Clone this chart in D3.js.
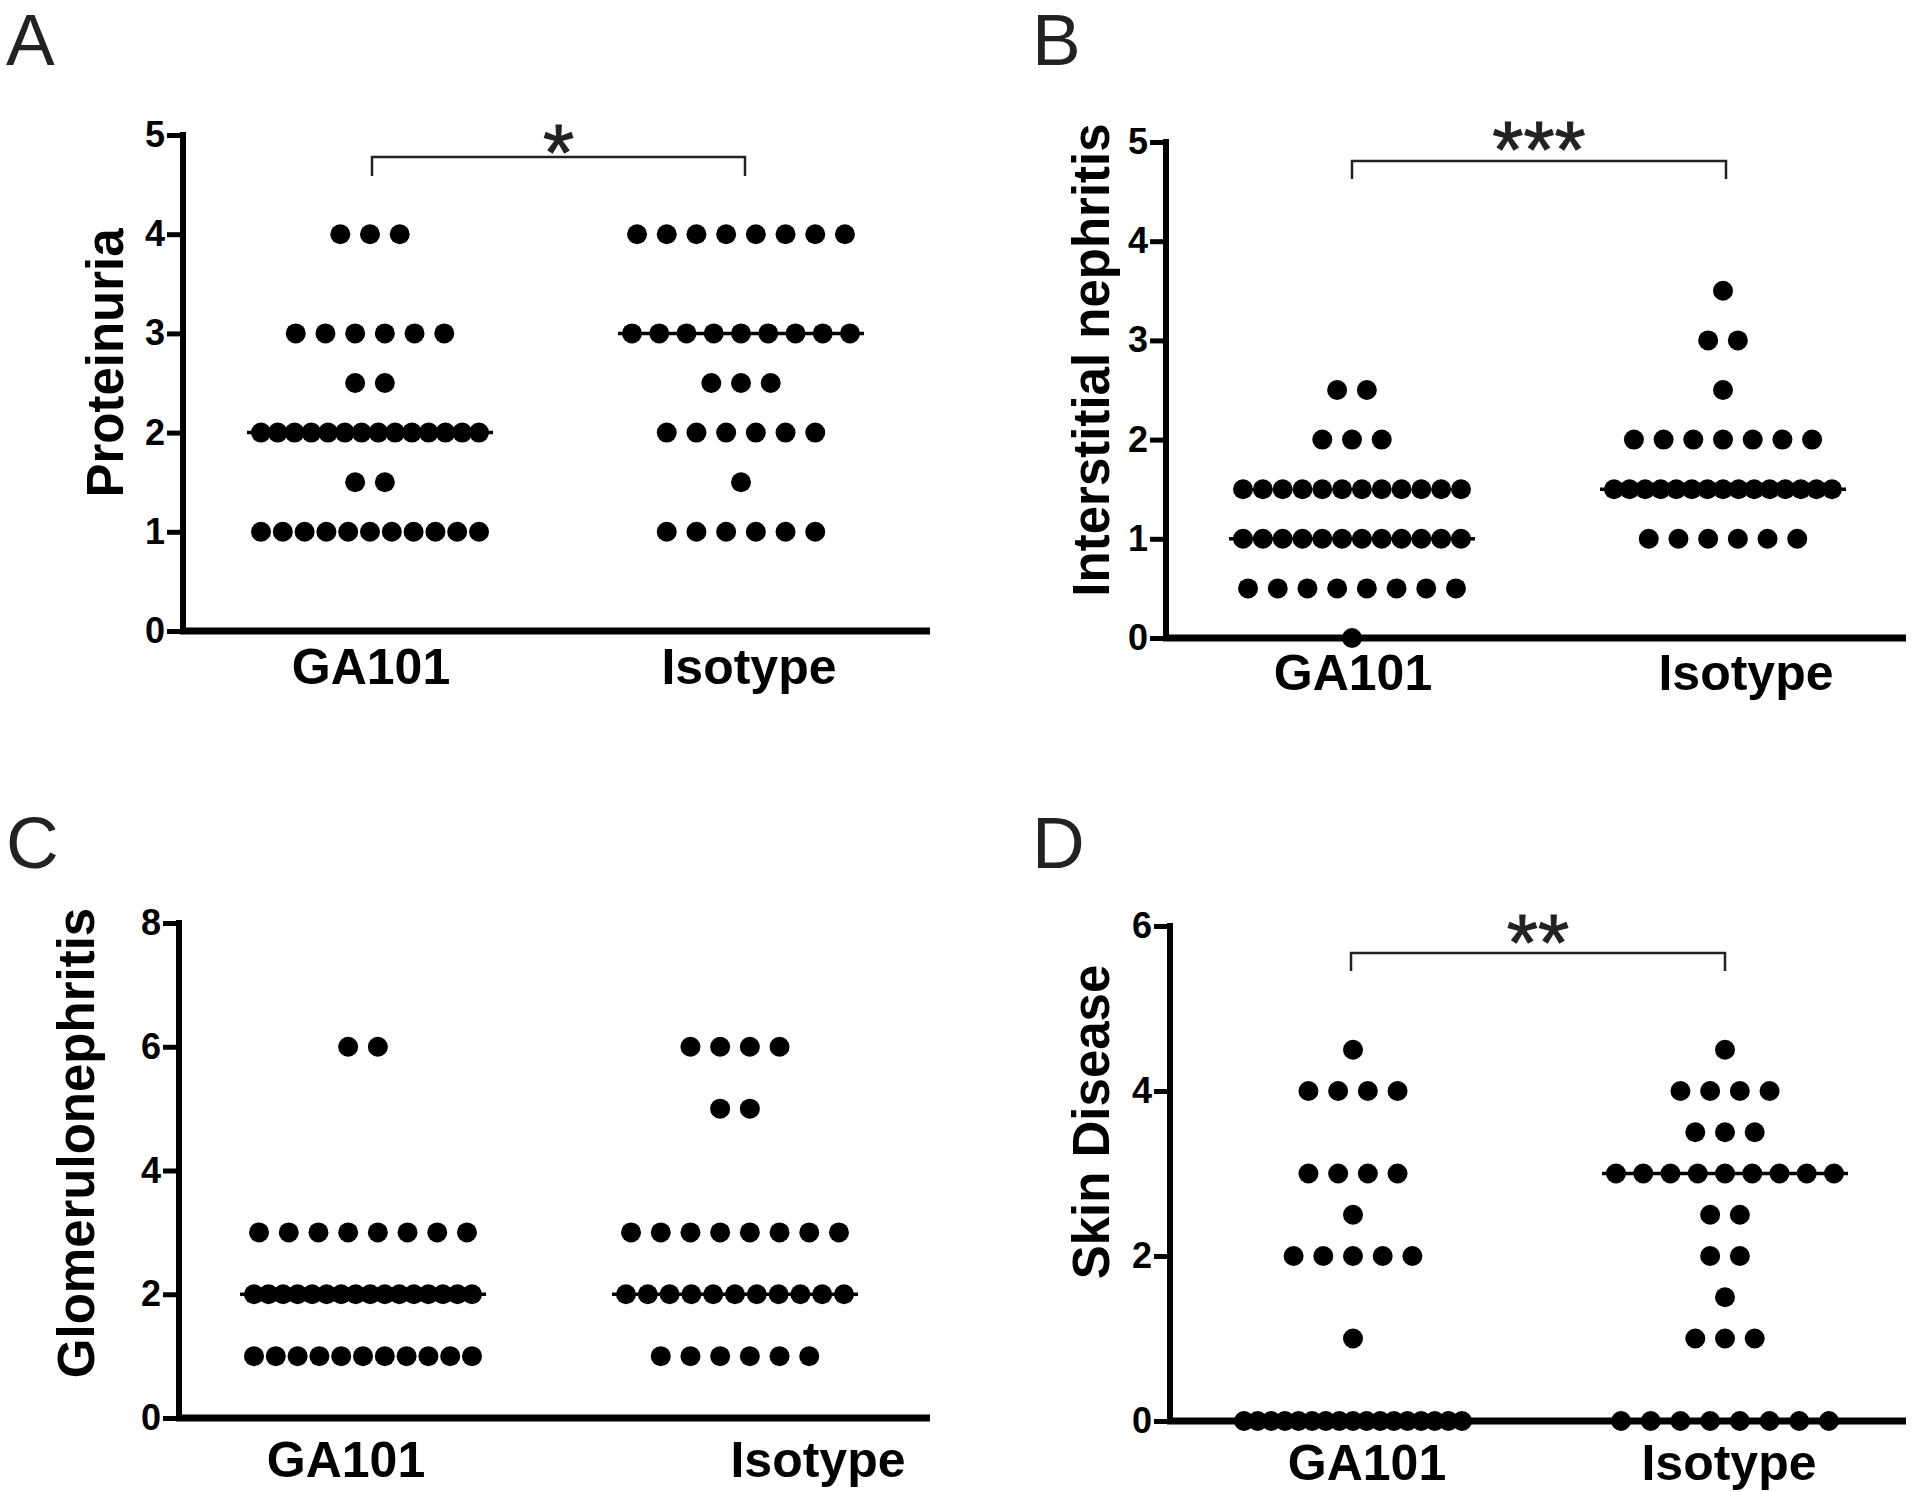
<!DOCTYPE html>
<html>
<head>
<meta charset="utf-8">
<script src="https://cdn.jsdelivr.net/npm/d3@7"></script>
<style>
  body { margin: 0; background: #fff; }
  svg text { font-family: "Liberation Sans", Arial, Helvetica, sans-serif; }
</style>
</head>
<body>
<div id="chart"></div>
<script>
// groups on the x axis
var groups = ["GA101", "Isotype"];

// A - proteinuria scores
var proteinuriaGA101 = [4, 4, 4, 3, 3, 3, 3, 3, 3, 2.5, 2.5,
  2, 2, 2, 2, 2, 2, 2, 2, 2, 2, 2, 2, 2, 2, 1.5, 1.5,
  1, 1, 1, 1, 1, 1, 1, 1, 1, 1, 1];
var proteinuriaIsotype = [4, 4, 4, 4, 4, 4, 4, 4, 3, 3, 3, 3, 3, 3, 3, 3, 3,
  2.5, 2.5, 2.5, 2, 2, 2, 2, 2, 2, 1.5, 1, 1, 1, 1, 1, 1];

// B - interstitial nephritis
var interstitialGA101 = [2.5, 2.5, 2, 2, 2,
  1.5, 1.5, 1.5, 1.5, 1.5, 1.5, 1.5, 1.5, 1.5, 1.5, 1.5, 1.5,
  1, 1, 1, 1, 1, 1, 1, 1, 1, 1, 1, 1,
  0.5, 0.5, 0.5, 0.5, 0.5, 0.5, 0.5, 0.5, 0];
var interstitialIsotype = [3.5, 3, 3, 2.5, 2, 2, 2, 2, 2, 2, 2,
  1.5, 1.5, 1.5, 1.5, 1.5, 1.5, 1.5, 1.5, 1.5, 1.5, 1.5, 1.5, 1.5, 1.5, 1.5,
  1, 1, 1, 1, 1, 1];

// C - glomerulonephritis
var glomeruloGA101 = [6, 6, 3, 3, 3, 3, 3, 3, 3, 3,
  2, 2, 2, 2, 2, 2, 2, 2, 2, 2, 2, 2, 2, 2, 2, 2,
  1, 1, 1, 1, 1, 1, 1, 1, 1, 1, 1];
var glomeruloIsotype = [6, 6, 6, 6, 5, 5, 3, 3, 3, 3, 3, 3, 3, 3,
  2, 2, 2, 2, 2, 2, 2, 2, 2, 2, 2, 1, 1, 1, 1, 1, 1];

// D - skin disease
var skinGA101 = [4.5, 4, 4, 4, 4, 3, 3, 3, 3, 2.5, 2, 2, 2, 2, 2, 1,
  0, 0, 0, 0, 0, 0, 0, 0, 0, 0, 0, 0, 0, 0, 0, 0, 0];
var skinIsotype = [4.5, 4, 4, 4, 4, 3.5, 3.5, 3.5, 3, 3, 3, 3, 3, 3, 3, 3, 3,
  2.5, 2.5, 2, 2, 1.5, 1, 1, 1, 0, 0, 0, 0, 0, 0, 0, 0];

var ticksA = [0, 1, 2, 3, 4, 5];
var ticksB = [0, 1, 2, 3, 4, 5];
var ticksC = [0, 2, 4, 6, 8];
var ticksD = [0, 2, 4, 6];

var svg = d3.select("#chart").append("svg")
  .attr("width", 1920)
  .attr("height", 1492);

var panels = [
  {letter: "A", lx: 6, ly: 65, title: "Proteinuria", data: [proteinuriaGA101, proteinuriaIsotype],
   ticks: ticksA, ax: 183, y0: 631, yTop: 135, xEnd: 930, centers: [370, 741],
   labelX: [371, 749], labelY: 684, titleX: 123, titleY: 363,
   sig: "*", sigY: 138, br: [372, 745, 157, 176]},
  {letter: "B", lx: 1032, ly: 65, title: "Interstitial nephritis", data: [interstitialGA101, interstitialIsotype],
   ticks: ticksB, ax: 1166, y0: 638, yTop: 142, xEnd: 1906, centers: [1352, 1723],
   labelX: [1353, 1746], labelY: 690, titleX: 1109, titleY: 360,
   sig: "***", sigY: 135, br: [1352, 1726, 161, 179]},
  {letter: "C", lx: 6, ly: 868, title: "Glomerulonephritis", data: [glomeruloGA101, glomeruloIsotype],
   ticks: ticksC, ax: 179, y0: 1418, yTop: 923, xEnd: 930, centers: [363, 735],
   labelX: [346, 818], labelY: 1477, titleX: 94, titleY: 1143,
   sig: null},
  {letter: "D", lx: 1032, ly: 868, title: "Skin Disease", data: [skinGA101, skinIsotype],
   ticks: ticksD, ax: 1170, y0: 1421, yTop: 926, xEnd: 1906, centers: [1353, 1725],
   labelX: [1367, 1729], labelY: 1480, titleX: 1109, titleY: 1122,
   sig: "**", sigY: 928, br: [1351, 1725, 953, 971]}
];

var maxStep = 29.7, maxSpan = 218, r = 10, medianHalf = 123;

panels.forEach(function(p) {
  var g = svg.append("g");
  var yMax = d3.max(p.ticks);
  var y = d3.scaleLinear().domain([0, yMax]).range([p.y0, p.yTop]);
  var x = d3.scaleOrdinal().domain(groups).range(p.centers);

  // panel letter
  g.append("text")
    .attr("x", p.lx).attr("y", p.ly)
    .attr("font-size", 73)
    .attr("fill", "#222")
    .text(p.letter);

  // y axis
  var yAxis = g.append("g")
    .attr("transform", "translate(" + p.ax + ",0)")
    .call(d3.axisLeft(y).tickValues(p.ticks).tickFormat(d3.format("d"))
      .tickSize(16).tickSizeOuter(0).tickPadding(2));
  yAxis.select(".domain").attr("stroke", "#000").attr("stroke-width", 6)
    .attr("d", "M0," + (p.y0 + 3) + "V" + (p.yTop - 3));
  yAxis.selectAll(".tick line").attr("stroke", "#000").attr("stroke-width", 5);
  yAxis.selectAll(".tick text")
    .attr("font-size", 36).attr("font-weight", "bold").attr("fill", "#000")
    .attr("font-family", "'Liberation Sans', Arial, sans-serif");

  // x axis line
  g.append("line")
    .attr("x1", p.ax - 3).attr("x2", p.xEnd)
    .attr("y1", y(0)).attr("y2", y(0))
    .attr("stroke", "#000").attr("stroke-width", 7);

  // group labels
  g.selectAll(".xlab").data(groups).enter().append("text")
    .attr("x", function(d, i) { return p.labelX[i]; })
    .attr("y", p.labelY)
    .attr("text-anchor", "middle")
    .attr("font-size", 50).attr("font-weight", "bold")
    .text(function(d) { return d; });

  // y title
  g.append("text")
    .attr("transform", "translate(" + p.titleX + "," + p.titleY + ") rotate(-90)")
    .attr("text-anchor", "middle")
    .attr("font-size", 51).attr("font-weight", "bold")
    .text(p.title);

  // dots and median lines
  groups.forEach(function(grp, gi) {
    var vals = p.data[gi];
    var cx = x(grp);
    var med = d3.median(vals);
    g.append("line")
      .attr("x1", cx - medianHalf).attr("x2", cx + medianHalf)
      .attr("y1", y(med)).attr("y2", y(med))
      .attr("stroke", "#000").attr("stroke-width", 3.5);

    var rows = d3.groups(vals, function(v) { return v; });
    var pts = [];
    rows.forEach(function(row) {
      var n = row[1].length;
      var step = n > 1 ? Math.min(maxStep, maxSpan / (n - 1)) : 0;
      row[1].forEach(function(v, i) {
        pts.push({v: v, dx: (i - (n - 1) / 2) * step});
      });
    });
    g.selectAll(null).data(pts).enter().append("circle")
      .attr("cx", function(d) { return cx + d.dx; })
      .attr("cy", function(d) { return y(d.v); })
      .attr("r", r)
      .attr("fill", "#000");
  });

  // significance bracket
  if (p.sig) {
    var b = p.br;
    g.append("path")
      .attr("d", "M" + b[0] + "," + b[3] + "V" + b[2] + "H" + b[1] + "V" + b[3])
      .attr("fill", "none").attr("stroke", "#222").attr("stroke-width", 2.5);
    g.append("text")
      .attr("x", (b[0] + b[1]) / 2)
      .attr("y", p.sigY + 42)
      .attr("text-anchor", "middle")
      .attr("font-size", 80)
      .attr("fill", "#222")
      .attr("stroke", "#222").attr("stroke-width", 1)
      .text(p.sig);
  }
});
</script>
</body>
</html>
